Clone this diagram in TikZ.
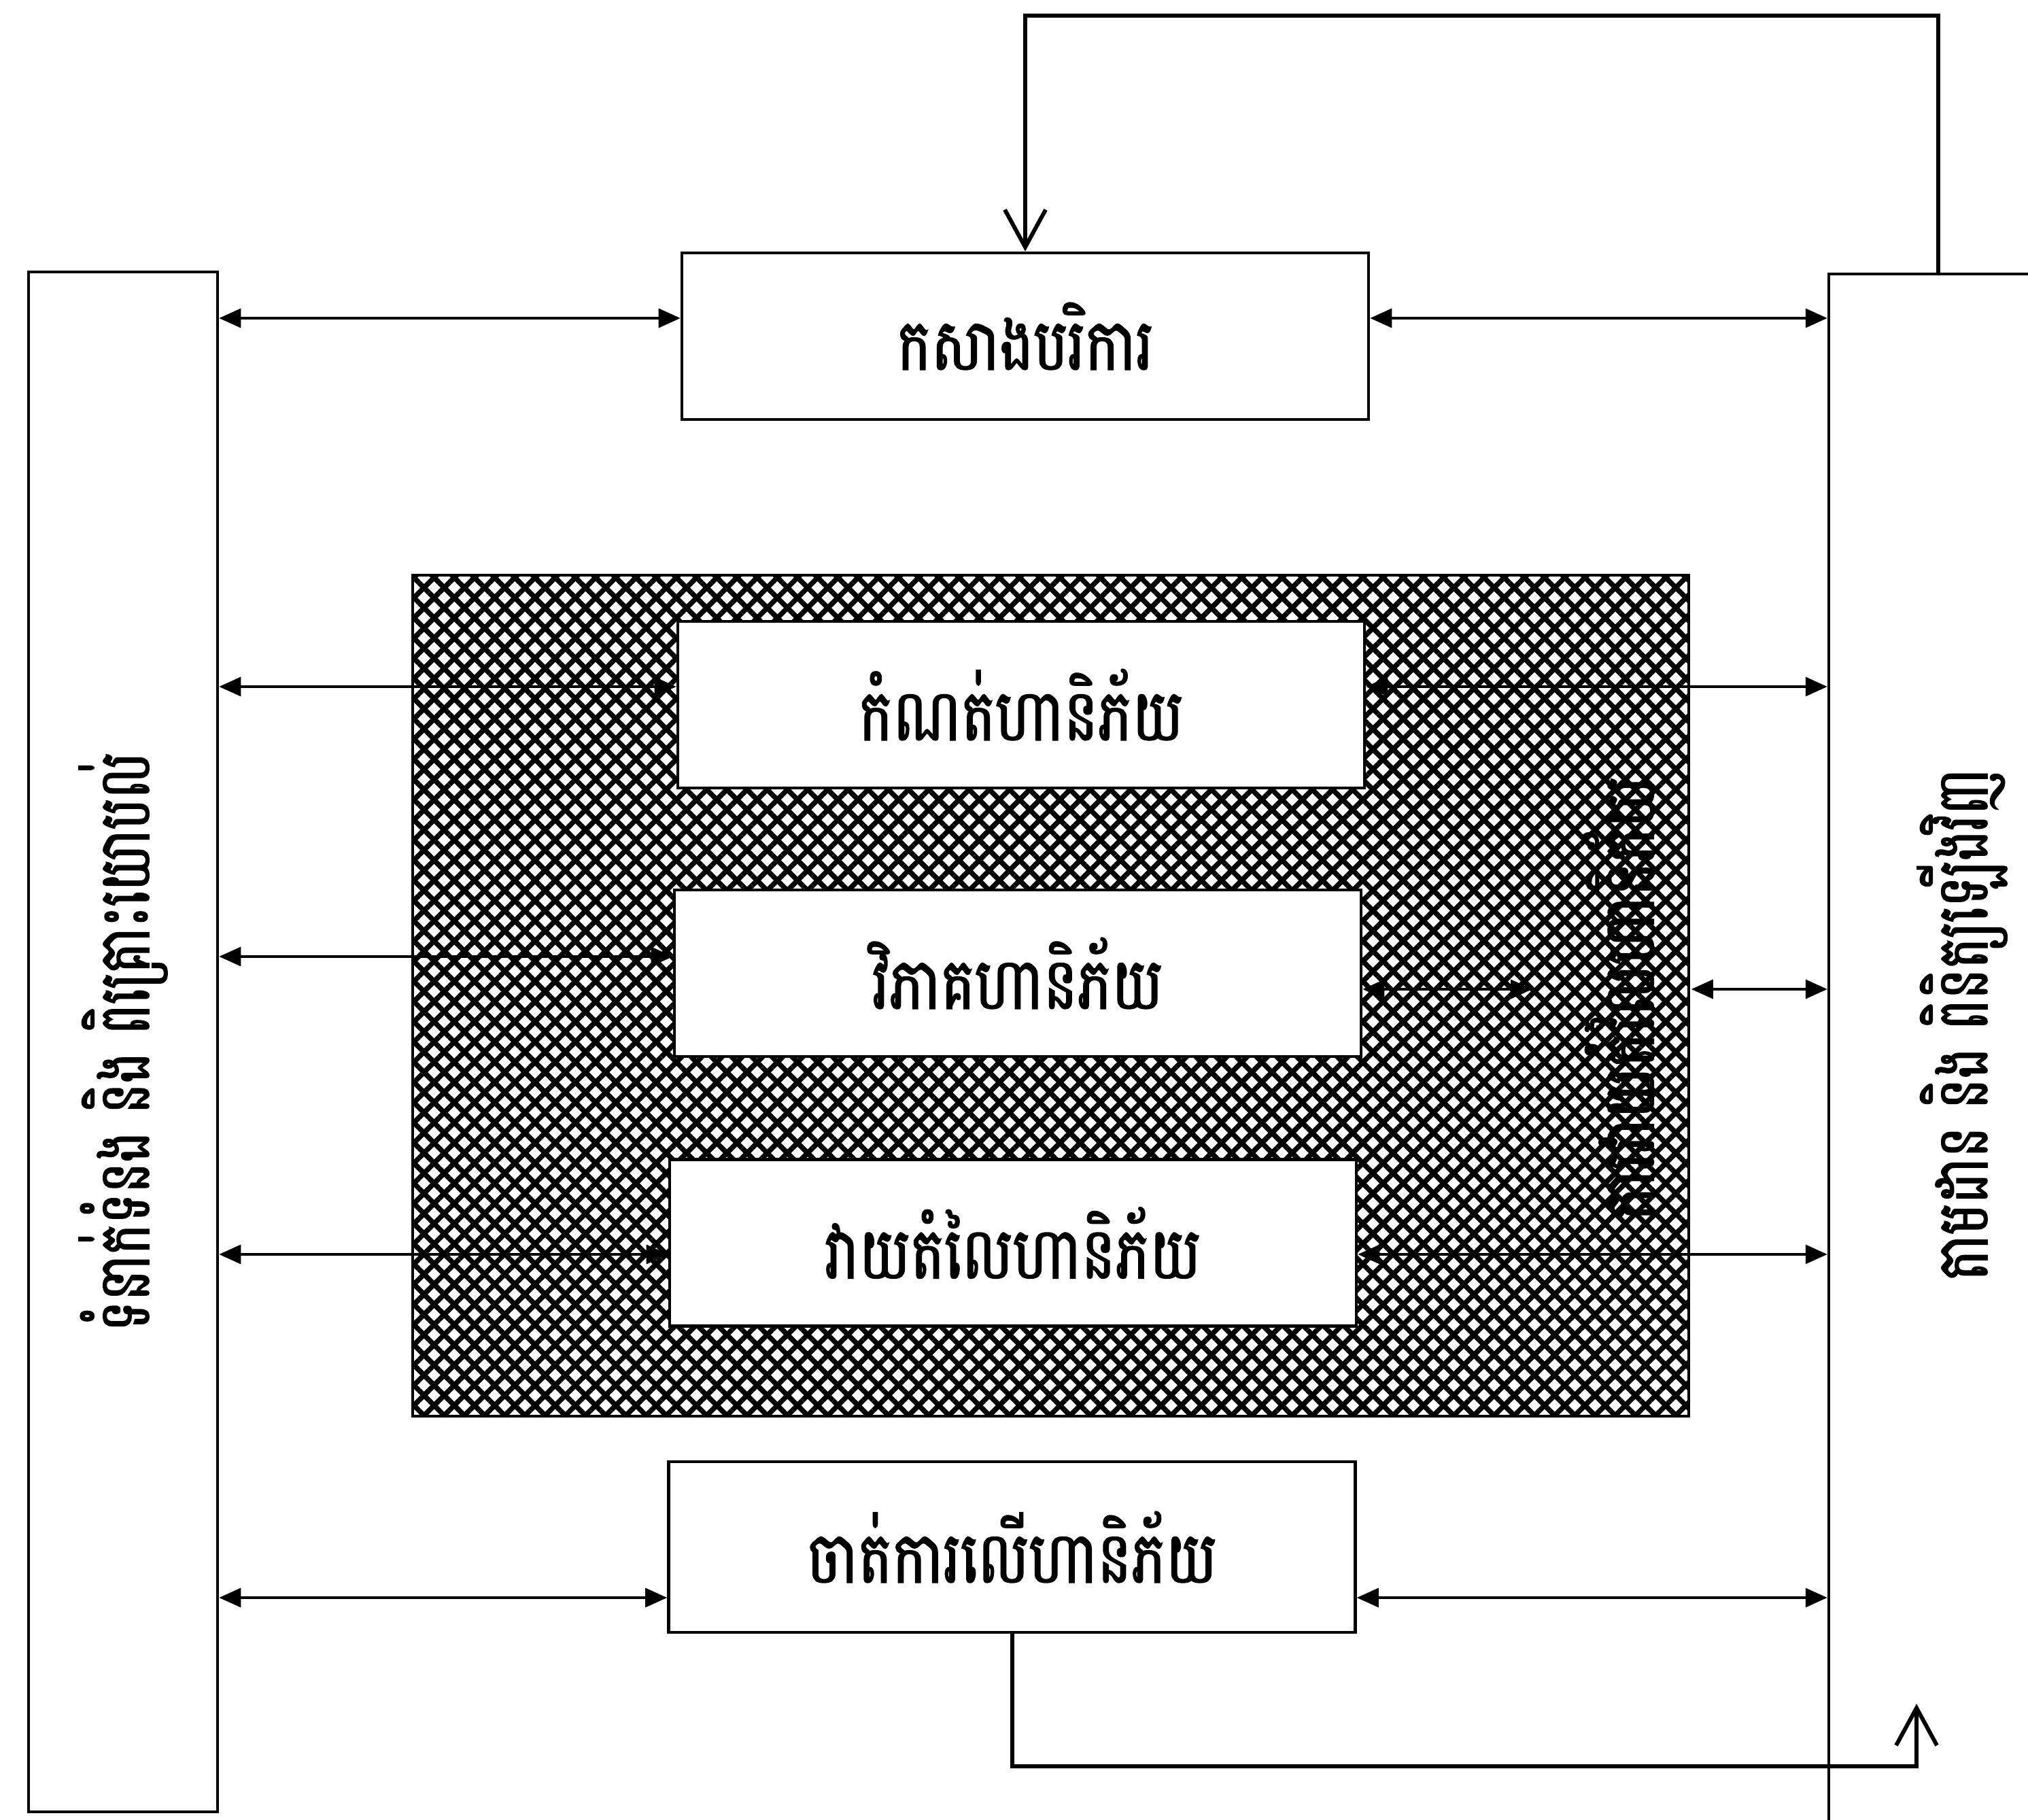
\documentclass[tikz,border=0pt]{standalone}
\usepackage{fontspec}
\newfontfamily\khmerfont[Script=Khmer,FakeStretch=0.8,FakeBold=1.5]{Battambang}
\newfontfamily\khmernarrow[Script=Khmer,FakeStretch=0.72,FakeBold=1.5]{Battambang}
\usetikzlibrary{positioning,arrows.meta,patterns.meta}

\tikzset{
  stepbox/.style={draw, line width=1.3pt, fill=white, minimum width=10.1cm,
    minimum height=2.45cm, font=\khmerfont\fontsize{30}{36}\selectfont},
  sidebox/.style={draw, line width=1.3pt, fill=white,
    font=\khmernarrow\fontsize{30}{36}\selectfont},
  sidetext/.style={inner sep=0pt, font=\khmernarrow\fontsize{30}{36}\selectfont},
  hatchbox/.style={draw, line width=1.3pt, minimum width=18.77cm, minimum height=12.37cm,
    pattern={Lines[angle=45,distance=2.1mm,line width=0.75mm]},
    postaction={pattern={Lines[angle=-45,distance=2.1mm,line width=0.75mm]}}},
  biarrow/.style={{Triangle[length=3.2mm,width=2.8mm]}-{Triangle[length=3.2mm,width=2.8mm]}, line width=1pt},
  feedback/.style={-{Straight Barb[length=5.5mm,width=6mm]}, line width=1.7pt}
}

\begin{document}
\begin{tikzpicture}
  \useasboundingbox (0,0) rectangle (29.83,26.76);
  \clip (0,0) rectangle (29.83,26.76);

  % Side boxes
  \node[sidebox, minimum width=2.78cm, minimum height=22.65cm] (comm) at (1.81,11.435)
    {\rotatebox{90}{ទំនាក់ទំនង និង ពិគ្រោះយោបល់}};
  \node[sidebox, minimum width=4.8cm, minimum height=23.73cm] (mon) at (29.30,10.865) {};
  \node[sidetext] (monlbl) at (28.86,11.69) {\rotatebox{90}{តាមដាន និង ពិនិត្យឡើងវិញ}};

  % Hatched assessment area
  \node[hatchbox] (assess) at (15.455,12.115) {};
  \node[sidetext, font=\khmerfont\fontsize{30}{36}\selectfont] (assesslbl) at (23.80,12.07)
    {\rotatebox{90}{ការវាយតំលៃហានិភ័យ}};

  % Process steps
  \node[stepbox] (ctx) at (15.08,21.815) {កសាងបរិការ};
  \node[stepbox] (ident) at (15.02,16.395) {កំណត់ហានិភ័យ};
  \node[stepbox] (anal) at (14.97,12.445) {វិភាគហានិភ័យ};
  \node[stepbox] (eval) at (14.90,8.48) {វាយតំលៃហានិភ័យ};
  \node[stepbox, minimum height=2.51cm] (treat) at (14.885,4.005) {ចាត់ការលើហានិភ័យ};

  % Links to the side boxes
  \draw[biarrow] ([yshift=2.65mm]ctx.west -| comm.east) -- ([yshift=2.65mm]ctx.west);
  \draw[biarrow] ([yshift=2.65mm]ctx.east) -- ([yshift=2.65mm]ctx.east -| mon.west);
  \draw[biarrow] ([yshift=2.65mm]ident.west -| comm.east) -- ([yshift=2.65mm]ident.west);
  \draw[biarrow] ([yshift=2.65mm]ident.east) -- ([yshift=2.65mm]ident.east -| mon.west);
  \draw[biarrow] ([yshift=2.45mm]anal.west -| comm.east) -- ([yshift=2.45mm]anal.west);
  \coordinate (hatchtip) at (22.54,12.21);
  \draw[biarrow] ([yshift=-2.35mm]anal.east) -- ([yshift=-2.35mm]anal.east -| hatchtip);
  \draw[biarrow] ([yshift=-2.35mm]anal.east -| assess.east) -- ([yshift=-2.35mm]anal.east -| mon.west);
  \draw[biarrow] ([yshift=-1.7mm]eval.west -| comm.east) -- ([yshift=-1.7mm]eval.west);
  \draw[biarrow] ([yshift=-1.7mm]eval.east) -- ([yshift=-1.7mm]eval.east -| mon.west);
  \draw[biarrow] ([yshift=-7.45mm]treat.west -| comm.east) -- ([yshift=-7.45mm]treat.west);
  \draw[biarrow] ([yshift=-7.45mm]treat.east) -- ([yshift=-7.45mm]treat.east -| mon.west);

  % Feedback loops
  \coordinate (topturn) at (28.51,26.53);
  \draw[feedback] (topturn |- mon.north) -- (topturn) -| (ctx.north);
  \coordinate (bottip) at (28.19,1.70);
  \draw[feedback] (treat.south) -- (treat.south |- 0,0.78) -| (bottip);
\end{tikzpicture}
\end{document}
